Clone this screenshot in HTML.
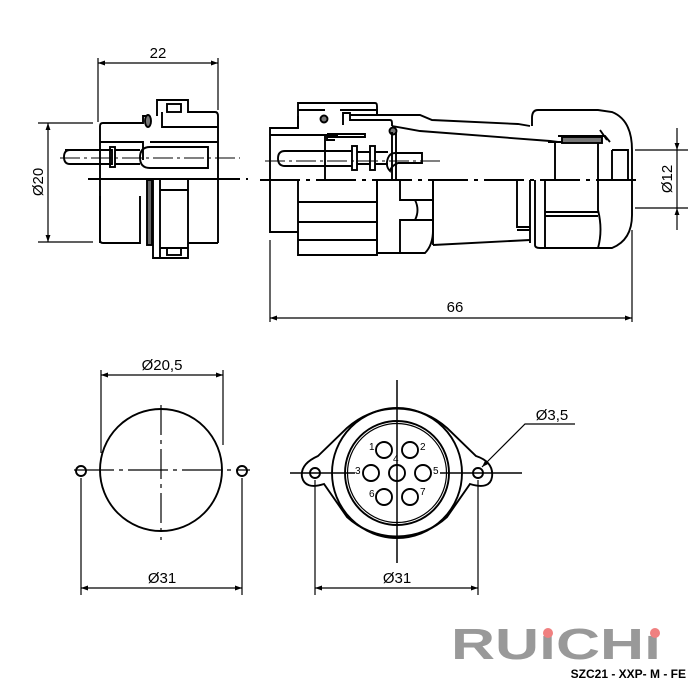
<!DOCTYPE html>
<html><head><meta charset="utf-8"><style>body{margin:0;background:#fff}svg{display:block}text{font-family:"Liberation Sans",sans-serif}</style></head>
<body>
<svg width="700" height="700" viewBox="0 0 700 700" xmlns="http://www.w3.org/2000/svg">
<defs>
<marker id="a" viewBox="0 0 10 10" refX="10" refY="5" markerWidth="10" markerHeight="7" orient="auto-start-reverse" markerUnits="userSpaceOnUse"><path d="M0,1.5 L10,5 L0,8.5 z" fill="#000"/></marker>
</defs>
<g fill="none" stroke="#000" stroke-width="1.9">
<!-- LEFT SIDE VIEW -->
<line x1="98" y1="58" x2="98" y2="122" stroke-width="1.2"/>
<line x1="218" y1="58" x2="218" y2="110" stroke-width="1.2"/>
<line x1="98" y1="63" x2="218" y2="63" stroke-width="1.2" marker-start="url(#a)" marker-end="url(#a)"/>
<line x1="38" y1="123" x2="93" y2="123" stroke-width="1.2"/>
<line x1="38" y1="242" x2="93" y2="242" stroke-width="1.2"/>
<line x1="48" y1="123" x2="48" y2="242" stroke-width="1.2" marker-start="url(#a)" marker-end="url(#a)"/>
<path d="M100,243 V126 Q100,123 103,123 H143 V116 H150 M157,116 V100 H188 V112 H215 Q218,112 218,116 V243"/>
<rect x="167" y="104" width="14" height="8"/>
<path d="M162,112 V127 H218 M100,142 H143 V160 M150,142 H218"/>
<path d="M100,179 H218"/>
<path d="M100,196 V240 Q100,243 103,243 H140 V196"/>
<rect x="147" y="180" width="5" height="65" fill="#666"/>
<path d="M153,180 V258 H188 V180 M160,180 V258 M188,243 H218"/>
<rect x="167" y="248" width="14" height="7"/>
<path d="M160,190 H188 M160,248 H188"/>
<ellipse cx="148" cy="121" rx="3" ry="6" fill="#777"/>
<path d="M65,150 H112 V164 H70 Q64,164 64,157 Q64,150 70,150" />
<rect x="110" y="147" width="5" height="20"/>
<path d="M115,150 H140 M115,164 H140"/>
<path d="M150,147 H208 V168 H150 Q140,168 140,157.5 Q140,147 150,147"/>
<line x1="60" y1="158" x2="240" y2="158" stroke-width="0.9" stroke-dasharray="20,4,3,4"/>
<line x1="88" y1="179" x2="248" y2="179" stroke-width="2" stroke-dasharray="40,6,4,6"/>

<!-- RIGHT SIDE VIEW -->
<line x1="270" y1="240" x2="270" y2="322" stroke-width="1.2"/>
<line x1="632" y1="230" x2="632" y2="322" stroke-width="1.2"/>
<line x1="270" y1="318" x2="632" y2="318" stroke-width="1.2" marker-start="url(#a)" marker-end="url(#a)"/>
<path d="M270,233 V128 H298 V103 H375 Q377,103 377,106 V116"/>
<path d="M270,135 H338 M298,128 V116 M298,110 H325 M340,110 H377 V116"/>
<path d="M343,125 V113 H350 V120 H390 Q392,120 392,123 V126 M350,115 H420 L432,120 L518,124 L530,126"/>
<path d="M392,126 L420,131 L550,141 L558,142"/>
<circle cx="324" cy="119" r="3.5" fill="#777"/>
<circle cx="393" cy="131" r="3.5" fill="#777"/>
<path d="M327,134 V140 H335 M327,134 H365 V137 H327"/>
<path d="M325,134 V180 M392,132 V180 M396,132 V180"/>
<path d="M285,151 H352 M285,166 H352 M285,151 Q278,151 278,158.5 Q278,166 285,166"/>
<rect x="352" y="146" width="5" height="24"/>
<rect x="370" y="146" width="5" height="24"/>
<path d="M357,152 H370 M357,164 H370 M375,152 H388 M375,164 H388"/>
<path d="M395,153 H422 V163 H398 Q391,166 390,171 Q385,166 388,158 Q390,153 395,153"/>
<line x1="265" y1="161" x2="444" y2="161" stroke-width="0.9" stroke-dasharray="20,4,3,4"/>
<path d="M298,180 V255 H377 V180 M298,202 H377 M298,222 H377 M298,240 H377"/>
<path d="M270,232 H298"/>
<path d="M377,180 V253 H425 Q433,245 433,230 V180"/>
<path d="M400,180 V200 H415 Q420,210 415,220 H400 V253 M415,200 H433 M415,220 H433"/>
<path d="M433,245 L530,240 M433,180 V245"/>
<path d="M517,180 V227 H530 M517,230 H530"/>
<path d="M530,243 V180 M535,180 V245 Q535,248 540,248 H600"/>
<path d="M545,180 V248 M598,180 V210 Q603,230 598,248 M545,212 H598 M545,216 H598"/>
<path d="M600,248 H612 Q632,240 632,215 V150 Q632,120 612,112 L598,110 H538 Q532,110 532,118 V126"/>
<path d="M548,142 H598 V180 M555,142 V180 M612,150 H628 V180 M612,150 V180"/>
<rect x="562" y="137" width="40" height="6" fill="#777"/>
<path d="M558,136 H605 L610,142 M600,130 L607,140"/>
<line x1="260" y1="180" x2="640" y2="180" stroke-width="2" stroke-dasharray="40,6,4,6"/>
<line x1="635" y1="150" x2="688" y2="150" stroke-width="1.2"/>
<line x1="635" y1="208" x2="688" y2="208" stroke-width="1.2"/>
<line x1="677" y1="128" x2="677" y2="150" stroke-width="1.2" marker-end="url(#a)"/>
<line x1="677" y1="230" x2="677" y2="208" stroke-width="1.2" marker-end="url(#a)"/>
<line x1="677" y1="150" x2="677" y2="208" stroke-width="1.2"/>

<!-- BOTTOM LEFT -->
<circle cx="161" cy="470" r="61"/>
<line x1="161" y1="405" x2="161" y2="540" stroke-width="1.2" stroke-dasharray="30,5,4,5"/>
<line x1="74" y1="470" x2="250" y2="470" stroke-width="1.2" stroke-dasharray="40,5,4,5"/>
<circle cx="81" cy="471" r="5"/>
<circle cx="242" cy="471" r="5"/>
<line x1="101" y1="370" x2="101" y2="453" stroke-width="1.2"/>
<line x1="223" y1="370" x2="223" y2="445" stroke-width="1.2"/>
<line x1="101" y1="375" x2="223" y2="375" stroke-width="1.2" marker-start="url(#a)" marker-end="url(#a)"/>
<line x1="81" y1="478" x2="81" y2="595" stroke-width="1.2"/>
<line x1="242" y1="478" x2="242" y2="595" stroke-width="1.2"/>
<line x1="81" y1="588" x2="242" y2="588" stroke-width="1.2" marker-start="url(#a)" marker-end="url(#a)"/>

<!-- BOTTOM RIGHT -->
<path d="M324,484 Q305,490 302,477 Q300,464 318,456 L347,428 A74,74 0 0 1 447,428 L476,456 Q494,462 492,477 Q490,490 470,484 L447,517 A74,74 0 0 1 347,517 Z"/>
<circle cx="397" cy="473" r="65"/>
<circle cx="397" cy="473" r="52"/>
<circle cx="397" cy="473" r="49.5" stroke-width="1.2"/>
<circle cx="315" cy="473" r="5"/>
<circle cx="478" cy="473" r="5"/>
<circle cx="384" cy="450" r="8"/><circle cx="410" cy="450" r="8"/>
<circle cx="371" cy="473" r="8"/><circle cx="397" cy="473" r="8"/><circle cx="423" cy="473" r="8"/>
<circle cx="384" cy="497" r="8"/><circle cx="410" cy="497" r="8"/>
<line x1="397" y1="380" x2="397" y2="563" stroke-width="1.5"/>
<line x1="290" y1="473" x2="355" y2="473" stroke-width="1.5"/>
<line x1="440" y1="473" x2="522" y2="473" stroke-width="1.5"/>
<line x1="315" y1="480" x2="315" y2="595" stroke-width="1.2"/>
<line x1="478" y1="480" x2="478" y2="595" stroke-width="1.2"/>
<line x1="315" y1="588" x2="478" y2="588" stroke-width="1.2" marker-start="url(#a)" marker-end="url(#a)"/>
<path d="M575,424 H525 L482,467" stroke-width="1.2" marker-end="url(#a)"/>
</g>
<g font-size="15" fill="#000">
<text x="158" y="58" text-anchor="middle">22</text>
<text transform="translate(43,182) rotate(-90)" text-anchor="middle">Ø20</text>
<text x="455" y="312" text-anchor="middle">66</text>
<text transform="translate(672,179) rotate(-90)" text-anchor="middle">Ø12</text>
<text x="162" y="370" text-anchor="middle">Ø20,5</text>
<text x="162" y="583" text-anchor="middle">Ø31</text>
<text x="397" y="583" text-anchor="middle">Ø31</text>
<text x="552" y="420" text-anchor="middle">Ø3,5</text>
</g>
<g font-size="10" fill="#000">
<text x="369" y="450">1</text><text x="420" y="450">2</text>
<text x="355" y="474">3</text><text x="393" y="462">4</text><text x="433" y="474">5</text>
<text x="369" y="497">6</text><text x="420" y="495">7</text>
</g>
<text x="556" y="659" text-anchor="middle" font-size="44" font-weight="bold" fill="#999" textLength="210" lengthAdjust="spacingAndGlyphs">RUıCHı</text>
<circle cx="548" cy="633" r="5" fill="#f08080"/>
<circle cx="655" cy="633" r="5" fill="#f08080"/>
<text x="686" y="678" text-anchor="end" font-size="12" font-weight="bold" fill="#000">SZC21 - XXP- M - FE</text>
</svg>
</body></html>
